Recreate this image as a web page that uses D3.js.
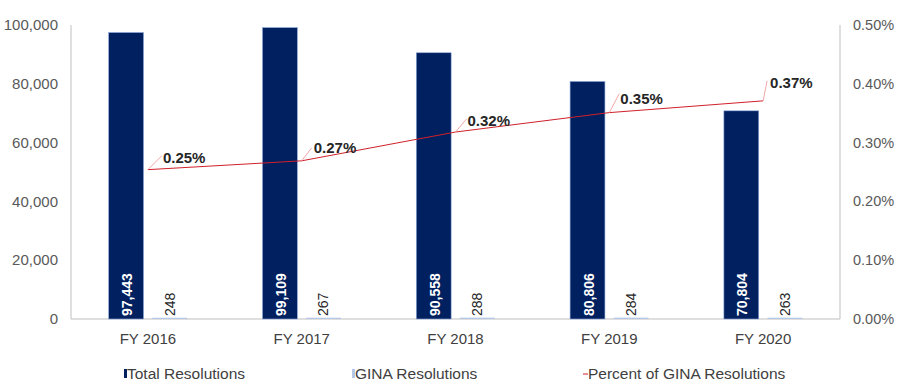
<!DOCTYPE html>
<html>
<head>
<meta charset="utf-8">
<script src="https://cdn.jsdelivr.net/npm/d3@7"></script>
<style>
  body { margin: 0; background: #fff; }
  text { font-family: "Liberation Sans", Arial, sans-serif; }
</style>
</head>
<body>
<div id="chart"></div>
<script>
// data
var years = ["FY 2016", "FY 2017", "FY 2018", "FY 2019", "FY 2020"];
var totalRes = [97443, 99109, 90558, 80806, 70804];
var ginaRes = [248, 267, 288, 284, 263];
var pctGina = [0.254, 0.269, 0.318, 0.351, 0.371];
var leftTicks = [0, 20000, 40000, 60000, 80000, 100000];
var rightTicks = [0, 0.1, 0.2, 0.3, 0.4, 0.5];
var legendNames = ["Total Resolutions", "GINA Resolutions", "Percent of GINA Resolutions"];

var W = 900, H = 391;
var plotL = 71, plotR = 840, plotT = 25, plotB = 319;

var svg = d3.select("#chart")
    .append("svg")
    .attr("width", W)
    .attr("height", H);

var x = d3.scaleBand().domain(years).range([plotL, plotR]).padding(0);
var bw = x.bandwidth();
var sub = d3.scaleBand().domain(["total", "gina"])
    .range([bw * 0.245, bw * 0.755]).paddingInner(0.2);
var y = d3.scaleLinear().domain([0, 100000]).range([plotB, plotT]);
var y2 = d3.scaleLinear().domain([0, 0.5]).range([plotB, plotT]);

var fmt = d3.format(",");

// axes lines
svg.append("line").attr("x1", plotL).attr("x2", plotL).attr("y1", plotT).attr("y2", plotB)
    .attr("stroke", "#bfbfbf");
svg.append("line").attr("x1", plotR).attr("x2", plotR).attr("y1", plotT).attr("y2", plotB)
    .attr("stroke", "#bfbfbf");
svg.append("line").attr("x1", plotL).attr("x2", plotR).attr("y1", plotB).attr("y2", plotB)
    .attr("stroke", "#bfbfbf");

// tick labels
svg.selectAll(".lt").data(leftTicks).enter().append("text")
    .attr("x", 58).attr("y", function(d){ return y(d); })
    .attr("dy", "0.35em").attr("text-anchor", "end")
    .attr("font-size", 15).attr("fill", "#595959")
    .text(function(d){ return fmt(d); });

svg.selectAll(".rt").data(rightTicks).enter().append("text")
    .attr("x", 853).attr("y", function(d){ return y2(d); })
    .attr("dy", "0.35em")
    .attr("font-size", 14.5).attr("fill", "#595959")
    .text(function(d){ return d.toFixed(2) + "%"; });

svg.selectAll(".xt").data(years).enter().append("text")
    .attr("x", function(d){ return x(d) + bw / 2; }).attr("y", 344)
    .attr("text-anchor", "middle")
    .attr("font-size", 15).attr("fill", "#404040")
    .text(function(d){ return d; });

// bars
svg.selectAll(".tb").data(totalRes).enter().append("rect")
    .attr("x", function(d, i){ return x(years[i]) + sub("total"); })
    .attr("y", function(d){ return y(d); })
    .attr("width", sub.bandwidth())
    .attr("height", function(d){ return plotB - y(d); })
    .attr("fill", "#002060")
    .attr("stroke", "#8faadc").attr("stroke-width", 0.6);

svg.selectAll(".gb").data(ginaRes).enter().append("rect")
    .attr("x", function(d, i){ return x(years[i]) + sub("gina"); })
    .attr("y", function(d){ return y(d) - 0.5; })
    .attr("width", sub.bandwidth())
    .attr("height", function(d){ return plotB - y(d) + 0.5; })
    .attr("fill", "#b4c7e7");

// bar labels (rotated)
svg.selectAll(".tl").data(totalRes).enter().append("text")
    .attr("transform", function(d, i){
        var cx = x(years[i]) + sub("total") + sub.bandwidth() / 2 + 1;
        return "translate(" + (cx + 5) + "," + (plotB - 3) + ") rotate(-90)";
    })
    .attr("font-size", 14).attr("font-weight", "bold").attr("fill", "#fff")
    .text(function(d){ return fmt(d); });

svg.selectAll(".gl").data(ginaRes).enter().append("text")
    .attr("transform", function(d, i){
        var cx = x(years[i]) + sub("gina") + sub.bandwidth() / 2;
        return "translate(" + (cx + 5) + "," + (plotB - 3) + ") rotate(-90)";
    })
    .attr("font-size", 14).attr("fill", "#262626")
    .text(function(d){ return fmt(d); });

// percent line
var line = d3.line()
    .x(function(d, i){ return x(years[i]) + bw / 2; })
    .y(function(d){ return y2(d); });

svg.append("path").datum(pctGina)
    .attr("d", line)
    .attr("fill", "none")
    .attr("stroke", "#d0202a").attr("stroke-width", 1);

// data labels with leader lines
var leader = [[14, -14], [10, -13], [11, -13], [10, -19], [4, -20]];
var textOff = [[15, -7], [12, -8], [12, -6], [11, -9], [7, -13]];

pctGina.forEach(function(v, i){
    var px = x(years[i]) + bw / 2, py = y2(v);
    svg.append("line")
        .attr("x1", px).attr("y1", py)
        .attr("x2", px + leader[i][0]).attr("y2", py + leader[i][1])
        .attr("stroke", "#ef8f8f").attr("stroke-width", 0.8);
    svg.append("text")
        .attr("x", px + textOff[i][0]).attr("y", py + textOff[i][1])
        .attr("font-size", 15).attr("font-weight", "bold").attr("fill", "#262626")
        .text(v.toFixed(2) + "%");
});

// legend
var legX = [124, 352, 583];
legendNames.forEach(function(name, i){
    var g = svg.append("g").attr("transform", "translate(" + legX[i] + ",374)");
    if (i === 0) {
        g.append("rect").attr("x", 0).attr("y", -5).attr("width", 3).attr("height", 9).attr("fill", "#002060");
    } else if (i === 1) {
        g.append("rect").attr("x", 0).attr("y", -5).attr("width", 3).attr("height", 9).attr("fill", "#b4c7e7");
    } else {
        g.append("line").attr("x1", 0).attr("x2", 5).attr("y1", 0).attr("y2", 0)
            .attr("stroke", "#d0202a").attr("stroke-width", 1);
    }
    g.append("text")
        .attr("x", i === 2 ? 5 : 3).attr("y", 0).attr("dy", "0.35em")
        .attr("font-size", 15.5).attr("fill", "#404040")
        .text(name);
});
</script>
</body>
</html>
